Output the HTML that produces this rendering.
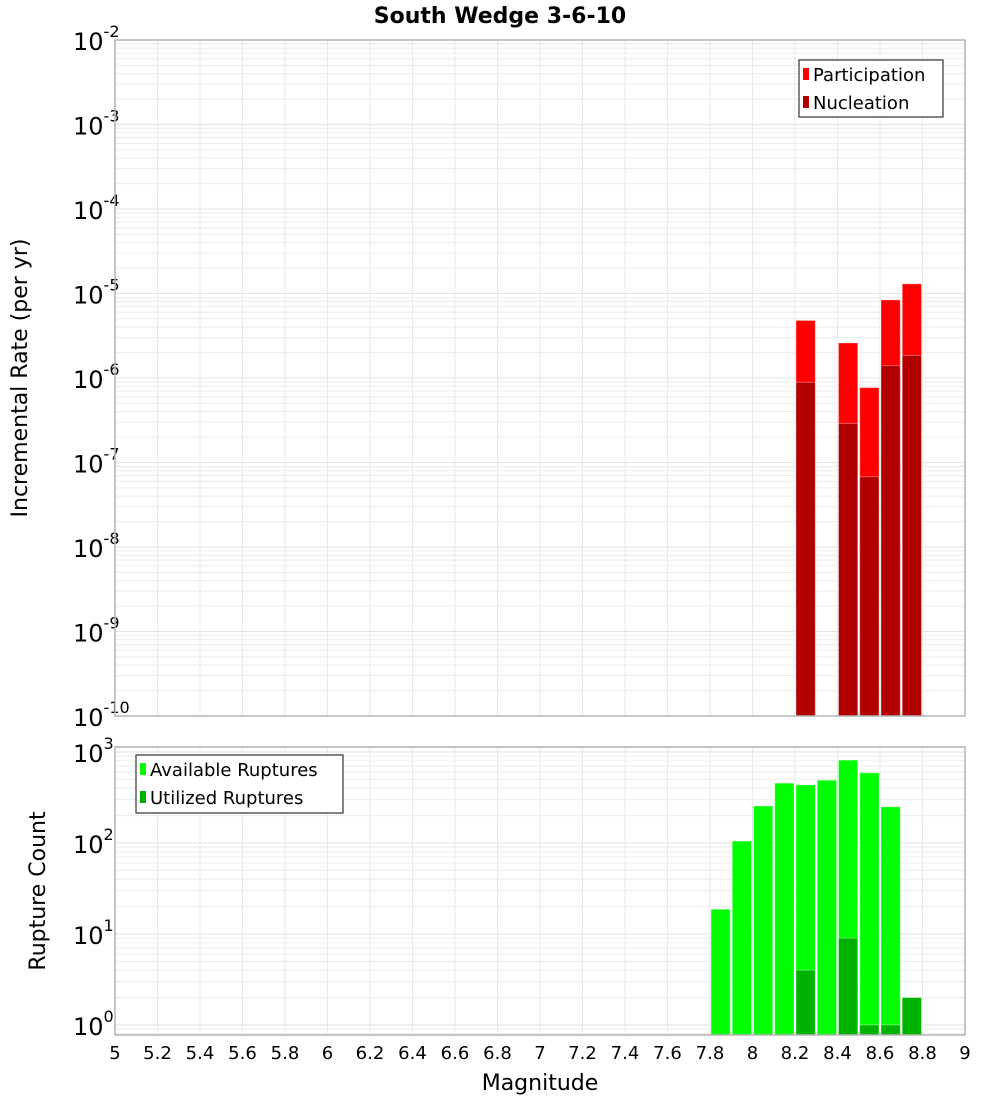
<!DOCTYPE html>
<html><head><meta charset="utf-8"><style>
html,body{margin:0;padding:0;background:#fff;}
svg{display:block;font-family:"DejaVu Sans","Liberation Sans",sans-serif;}
</style></head><body>
<svg id="chart" width="1000" height="1100" viewBox="0 0 1000 1100" xmlns="http://www.w3.org/2000/svg">
<text x="500" y="23" text-anchor="middle" font-size="22" font-weight="bold">South Wedge 3-6-10</text>
<g id="topPanel"></g>
<g id="botPanel"></g>
<text transform="translate(27,378) rotate(-90)" text-anchor="middle" font-size="22">Incremental Rate (per yr)</text>
<text transform="translate(45,891) rotate(-90)" text-anchor="middle" font-size="22">Rupture Count</text>
<text x="540" y="1090" text-anchor="middle" font-size="22">Magnitude</text>
</svg>
<script>
// Data
const magBins = [7.85, 7.95, 8.05, 8.15, 8.25, 8.35, 8.45, 8.55, 8.65, 8.75];
const participation = [0, 0, 0, 0, 4.8e-6, 0, 2.6e-6, 7.7e-7, 8.4e-6, 1.3e-5];
const nucleation = [0, 0, 0, 0, 8.9e-7, 0, 2.9e-7, 6.8e-8, 1.4e-6, 1.85e-6];
const availableRuptures = [18.7, 105, 255, 455, 435, 490, 815, 590, 250, 2];
const utilizedRuptures = [0, 0, 0, 0, 4, 0, 9, 1, 1, 2];
const xTicks = [5, 5.2, 5.4, 5.6, 5.8, 6, 6.2, 6.4, 6.6, 6.8, 7, 7.2, 7.4, 7.6, 7.8, 8, 8.2, 8.4, 8.6, 8.8, 9];
const topDecades = [-2, -3, -4, -5, -6, -7, -8, -9, -10];
const botDecades = [3, 2, 1, 0];

const NS = "http://www.w3.org/2000/svg";
const L = 115, R = 965;
const xs = m => L + (m - 5) / 4 * (R - L);
const topT = 40, topB = 716, topMax = -2, topMin = -10;
const yTop = v => topT + (topMax - Math.log10(v)) / (topMax - topMin) * (topB - topT);
const botT = 747, botB = 1035, botMax = 3.055, botMin = -0.11;
const yBot = v => botT + (botMax - Math.log10(v)) / (botMax - botMin) * (botB - botT);

function mk(parent, tag, attrs) {
  const e = document.createElementNS(NS, tag);
  for (const k in attrs) e.setAttribute(k, attrs[k]);
  parent.appendChild(e);
  return e;
}

function panel(g, T, B, yf, minL, maxL, decades, name) {
  const bg = mk(g, "rect", {x: L, y: T, width: R - L, height: B - T, fill: "#fff"});
  
  
  for (let d = Math.floor(minL); d <= Math.ceil(maxL); d++) {
    for (let k = 1; k <= 9; k++) {
      const v = k * Math.pow(10, d);
      const lv = Math.log10(v);
      if (lv < minL || lv > maxL) continue;
      const y = yf(v);
      const ln = mk(g, "line", {x1: L, x2: R, y1: y, y2: y, stroke: k === 1 ? "#e2e2e2" : "#ececec", "stroke-width": 1});
      
      
    }
  }
  xTicks.forEach(t => {
    const x = xs(t);
    const ln = mk(g, "line", {x1: x, x2: x, y1: T, y2: B, stroke: "#e8e8e8", "stroke-width": 1});
    
    
  });
  decades.forEach(d => {
    const y = yf(Math.pow(10, d));
    const t = mk(g, "text", {x: 73, y: y + 10, "text-anchor": "start", "font-size": 24});
    
    
    const base = document.createElementNS(NS, "tspan");
    base.textContent = "10";
    t.appendChild(base);
    const sup = document.createElementNS(NS, "tspan");
    sup.setAttribute("dy", "-13");
    sup.setAttribute("font-size", "16");
    sup.textContent = String(d);
    t.appendChild(sup);
  });
}

const gTop = document.getElementById("topPanel");
const gBot = document.getElementById("botPanel");
panel(gTop, topT, topB, yTop, topMin, topMax, topDecades, "top");
panel(gBot, botT, botB, yBot, botMin, botMax, botDecades, "bottom");

function bars(g, vals, yf, B, color, name) {
  magBins.forEach((m, i) => {
    const v = vals[i];
    if (!v || v <= 0) return;
    const x0 = xs(m - 0.05) + 1, x1 = xs(m + 0.05) - 1;
    const y = Math.max(yf(v), 0);
    const r = mk(g, "rect", {x: x0, y: y, width: x1 - x0, height: B - y, fill: color, stroke: "rgba(255,255,255,0.35)", "stroke-width": 1});
    
    
  });
}
bars(gTop, participation, yTop, topB, "#ff0000", "participation-bar");
bars(gTop, nucleation, yTop, topB, "#b20000", "nucleation-bar");
bars(gBot, availableRuptures, yBot, botB, "#00ff00", "available-bar");
bars(gBot, utilizedRuptures, yBot, botB, "#00b200", "utilized-bar");

[[gTop, topT, topB, "top"], [gBot, botT, botB, "bottom"]].forEach(([g, T, B, n]) => {
  const f = mk(g, "rect", {x: L, y: T, width: R - L, height: B - T, fill: "none", stroke: "#b4b4b4", "stroke-width": 1.5});
  
  
});

xTicks.forEach(t => {
  const tx = mk(gBot, "text", {x: xs(t), y: 1059, "text-anchor": "middle", "font-size": 18});
  
  
  tx.textContent = String(t);
});

function legend(g, x, y, w, h, entries, name) {
  const box = mk(g, "rect", {x: x, y: y, width: w, height: h, fill: "#fff", stroke: "#333", "stroke-width": 1.2});
  
  
  entries.forEach((e, i) => {
    const cy = y + 14 + i * 28;
    const sw = mk(g, "rect", {x: x + 4, y: cy - 6, width: 6, height: 12, fill: e[1]});
    
    
    const t = mk(g, "text", {x: x + 14, y: cy + 7, "font-size": 18});
    
    
    t.textContent = e[0];
  });
}
legend(gTop, 799, 60, 144, 57, [["Participation", "#ff0000"], ["Nucleation", "#b20000"]], "top-legend");
legend(gBot, 136, 755, 207, 58, [["Available Ruptures", "#00ff00"], ["Utilized Ruptures", "#00b200"]], "bottom-legend");
</script>
</body></html>
